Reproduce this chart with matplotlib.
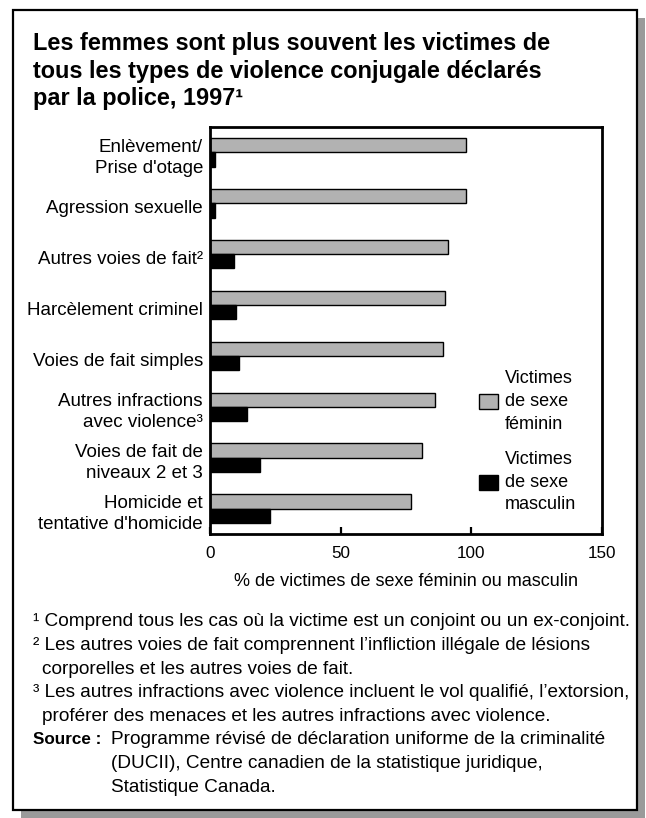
import matplotlib
matplotlib.use('Agg')
import numpy as np
from matplotlib import pyplot as plt
from matplotlib.patches import Rectangle

plt.rcParams['font.family'] = ['Liberation Sans', 'DejaVu Sans']

CATEGORIES = [
    "Enlèvement/\nPrise d'otage",
    'Agression sexuelle',
    'Autres voies de fait²',
    'Harcèlement criminel',
    'Voies de fait simples',
    'Autres infractions\navec violence³',
    'Voies de fait de\nniveaux 2 et 3',
    "Homicide et\ntentative d'homicide",
]
FEMALE = [98, 98, 91, 90, 89, 86, 81, 77]
MALE = [2, 2, 9, 10, 11, 14, 19, 23]
X_TICKS = [0, 50, 100, 150]
LEGEND_LABELS = ['Victimes\nde sexe\nféminin', 'Victimes\nde sexe\nmasculin']

TITLE = ('Les femmes sont plus souvent les victimes de\n'
         'tous les types de violence conjugale déclarés\n'
         'par la police, 1997¹')
XLABEL = '% de victimes de sexe féminin ou masculin'
NOTES = [
    (33, '¹ Comprend tous les cas où la victime est un conjoint ou un ex-conjoint.'),
    (33, '² Les autres voies de fait comprennent l’infliction illégale de lésions'),
    (42, 'corporelles et les autres voies de fait.'),
    (33, '³ Les autres infractions avec violence incluent le vol qualifié, l’extorsion,'),
    (42, 'proférer des menaces et les autres infractions avec violence.'),
]
SOURCE_LINES = [
    'Programme révisé de déclaration uniforme de la criminalité',
    '(DUCII), Centre canadien de la statistique juridique,',
    'Statistique Canada.',
]

W, H = 646, 818


def fx(px):
    return px / W


def fy(py):
    return 1 - py / H


fig = plt.figure(figsize=(W / 100, H / 100), dpi=100)

# frame with drop shadow
fig.patches.append(Rectangle(
    (fx(21), fy(818)), (645 - 21) / W, (818 - 18) / H,
    transform=fig.transFigure, facecolor='#9a9a9a', edgecolor='none', zorder=-2,
))
fig.patches.append(Rectangle(
    (fx(13), fy(810)), (637 - 13) / W, (810 - 10) / H,
    transform=fig.transFigure, facecolor='white', edgecolor='black',
    linewidth=1.6, zorder=-1,
))

fig.text(fx(33), fy(32), TITLE, ha='left', va='top', fontsize=16.9,
         fontweight='bold', linespacing=1.26)

ax = fig.add_axes([fx(210), fy(534), (602 - 210) / W, (534 - 127) / H])

y = np.arange(len(CATEGORIES))
h = 0.28
fem = ax.barh(y - h / 2, FEMALE, height=h, color='#b2b2b2',
              edgecolor='black', linewidth=1.0)
mal = ax.barh(y + h / 2, MALE, height=h, color='black',
              edgecolor='black', linewidth=1.0)

ax.set_xlim(0, 150)
ax.set_ylim(len(CATEGORIES) - 0.5, -0.5)
ax.set_yticks([])
ax.set_xticks(X_TICKS)
ax.tick_params(axis='x', direction='in', length=5, width=1.6, pad=9,
               labelsize=12.3)
for spine in ax.spines.values():
    spine.set_linewidth(2)

for i, label in enumerate(CATEGORIES):
    ax.text(-0.018, i + 0.1, label, transform=ax.get_yaxis_transform(),
            ha='right', va='center', fontsize=13.5, linespacing=1.31)

ax.set_xlabel(XLABEL, fontsize=13, labelpad=8.5)

leg = ax.legend(
    [fem, mal], LEGEND_LABELS, loc='upper left', bbox_to_anchor=(0.686, 0.403),
    frameon=False, fontsize=13, handlelength=1.05, handleheight=0.95,
    handletextpad=0.4, labelspacing=1.0, borderpad=0, borderaxespad=0,
)
for t in leg.get_texts():
    t.set_linespacing(1.45)

# footnotes
step = 23.6
for i, (x, line) in enumerate(NOTES):
    fig.text(fx(x), fy(622 + i * step), line, ha='left', va='center',
             fontsize=13.65)
y0 = 622 + len(NOTES) * step
fig.text(fx(33), fy(y0), 'Source :', ha='left', va='center', fontsize=12.3,
         fontweight='bold')
for i, line in enumerate(SOURCE_LINES):
    fig.text(fx(111), fy(y0 + i * step), line, ha='left', va='center',
             fontsize=13.65)

fig.savefig('out.png', dpi=100)
